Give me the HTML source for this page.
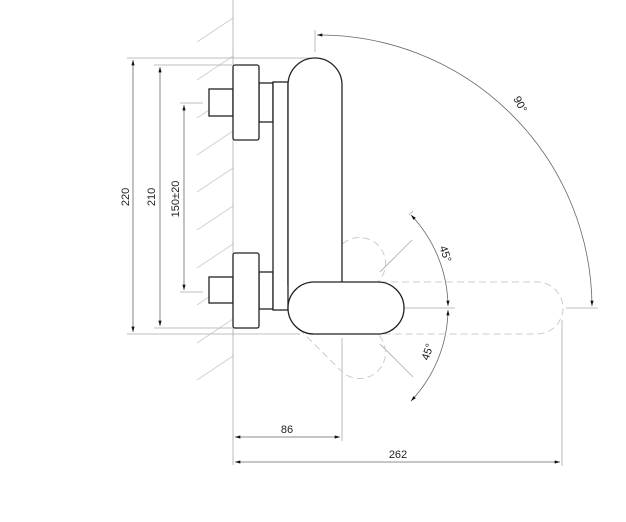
<!DOCTYPE html>
<html><head><meta charset="utf-8"><style>
html,body{margin:0;padding:0;background:#fff;}
svg{display:block;}
text{font-family:"Liberation Sans",sans-serif;font-size:11px;fill:#222;}
</style></head><body>
<svg width="626" height="522" viewBox="0 0 626 522" xmlns="http://www.w3.org/2000/svg">
<defs>
<marker id="a" viewBox="0 0 10 6" refX="10" refY="3" markerWidth="9" markerHeight="4" orient="auto-start-reverse"><path d="M0,0L10,3L0,6z" fill="#111"/></marker>
</defs>
<!-- hatching -->
<g stroke="#ccc" stroke-width="0.8">
<line x1="197" y1="42" x2="233" y2="18"/>
<line x1="197" y1="80" x2="233" y2="56"/>
<line x1="197" y1="118" x2="233" y2="94"/>
<line x1="197" y1="155" x2="233" y2="131"/>
<line x1="197" y1="192" x2="233" y2="168"/>
<line x1="197" y1="230" x2="233" y2="206"/>
<line x1="197" y1="268" x2="233" y2="244"/>
<line x1="197" y1="305" x2="233" y2="281"/>
<line x1="197" y1="343" x2="233" y2="319"/>
<line x1="197" y1="380" x2="233" y2="356"/>
</g>
<!-- wall line -->
<line x1="233" y1="0" x2="233" y2="465" stroke="#aaa" stroke-width="0.8"/>
<!-- dimension extension lines -->
<g stroke="#aaa" stroke-width="0.8" fill="none">
<line x1="127" y1="58" x2="310" y2="58"/>
<line x1="154" y1="65" x2="232" y2="65"/>
<line x1="180" y1="103" x2="203" y2="103"/>
<line x1="180" y1="292" x2="203" y2="292"/>
<line x1="154" y1="328" x2="232" y2="328"/>
<line x1="127" y1="334" x2="300" y2="334"/>
<line x1="342" y1="338" x2="342" y2="441"/>
<line x1="562" y1="320" x2="562" y2="466"/>
<line x1="315" y1="30" x2="315" y2="52"/>
<line x1="345" y1="308" x2="455" y2="308"/>
<line x1="566" y1="308" x2="598" y2="308"/>
<line x1="380" y1="272" x2="412" y2="240" />
<line x1="380" y1="344" x2="413" y2="377" />
<line x1="413" y1="211" x2="409" y2="215"/>
</g>
<!-- dim lines -->
<g stroke="#666" stroke-width="0.8" fill="none">
<line x1="133" y1="60" x2="133" y2="332" marker-start="url(#a)" marker-end="url(#a)"/>
<line x1="160" y1="67" x2="160" y2="326" marker-start="url(#a)" marker-end="url(#a)"/>
<line x1="184" y1="105" x2="184" y2="290" marker-start="url(#a)" marker-end="url(#a)"/>
<line x1="235" y1="437" x2="340" y2="437" marker-start="url(#a)" marker-end="url(#a)"/>
<line x1="235" y1="462" x2="560" y2="462" marker-start="url(#a)" marker-end="url(#a)"/>
<path d="M317,35 A273,273 0 0 1 592,306" marker-start="url(#a)" marker-end="url(#a)"/>
<path d="M411,215 A135,135 0 0 1 448,306" marker-start="url(#a)" marker-end="url(#a)"/>
<path d="M448,310 A135,135 0 0 1 411,401" marker-start="url(#a)" marker-end="url(#a)"/>
</g>
<!-- dashed positions -->
<g stroke="#ccc" stroke-width="1" fill="none" stroke-dasharray="7,4">
<rect x="288" y="282" width="275" height="52" rx="26"/>
<rect x="288" y="282" width="116" height="52" rx="26" transform="rotate(-45 315 308)"/>
<rect x="288" y="282" width="116" height="52" rx="26" transform="rotate(45 315 308)"/>
</g>
<!-- faucet solid -->
<g stroke="#222" stroke-width="1.3" fill="#fff">
<rect x="209" y="89" width="24" height="27"/>
<rect x="209" y="277" width="24" height="26"/>
<rect x="259" y="83" width="14" height="39"/>
<rect x="259" y="272" width="14" height="37"/>
<rect x="233" y="65" width="26" height="75" rx="2"/>
<rect x="233" y="253" width="26" height="75" rx="2"/>
<rect x="273" y="82" width="15" height="228"/>
<path d="M288,285 L288,85 A27,27 0 0 1 342,85 L342,284" />
<rect x="288" y="282" width="116" height="52" rx="26"/>
</g>
<!-- texts -->
<text transform="translate(129,197) rotate(-90)" text-anchor="middle">220</text>
<text transform="translate(155,197) rotate(-90)" text-anchor="middle">210</text>
<text transform="translate(179,199) rotate(-90)" text-anchor="middle">150±20</text>
<text x="287" y="433" text-anchor="middle">86</text>
<text x="398" y="458" text-anchor="middle">262</text>
<text transform="translate(517,106) rotate(62)" text-anchor="middle">90°</text>
<text transform="translate(442,255) rotate(72)" text-anchor="middle">45°</text>
<text transform="translate(431,353) rotate(-72)" text-anchor="middle">45°</text>
</svg>
</body></html>
